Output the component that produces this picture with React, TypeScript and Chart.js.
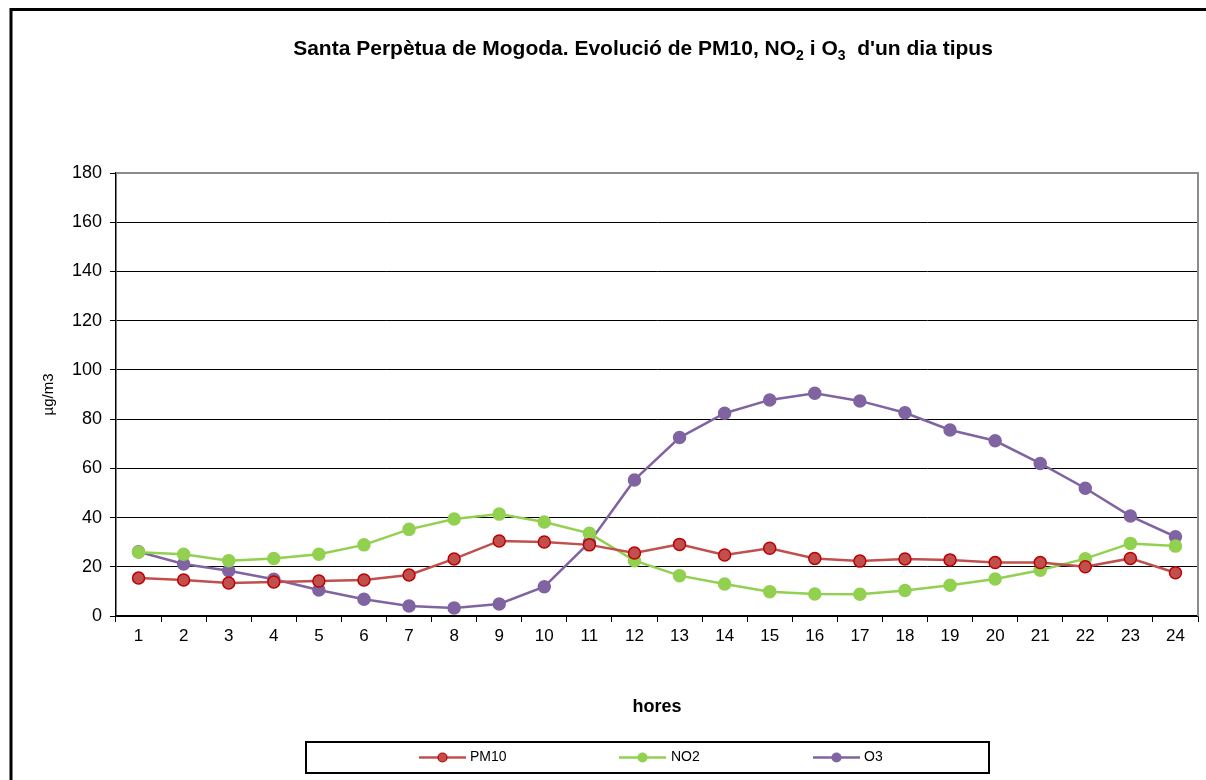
import React, { useEffect, useRef } from "react";
import { Chart, registerables } from "chart.js";

Chart.register(...registerables);

const hours = ["1","2","3","4","5","6","7","8","9","10","11","12","13","14","15","16","17","18","19","20","21","22","23","24"];
const pm10 = [15.4,14.6,13.4,13.8,14.2,14.6,16.7,23.2,30.5,30.1,28.9,25.6,29.1,24.8,27.5,23.4,22.3,23.2,22.8,21.7,21.7,20.0,23.4,17.6];
const no2 = [25.9,25.1,22.5,23.4,25.1,28.9,35.2,39.4,41.4,38.2,33.6,22.5,16.4,13.0,9.9,8.9,8.8,10.4,12.5,15.0,18.6,23.3,29.5,28.4];
const o3 = [26.1,21.1,18.4,14.9,10.6,6.8,4.1,3.3,4.9,11.9,29.9,55.3,72.5,82.4,87.8,90.5,87.4,82.6,75.6,71.2,62.0,51.9,40.6,32.2];
const yTicks = [0,20,40,60,80,100,120,140,160,180];

const FONT = "'Liberation Sans', Arial, sans-serif";

const seriesDefs = [
  { label: "PM10", data: pm10, line: "#c0504d", fill: "#c0504d", border: "#c00000" },
  { label: "NO2", data: no2, line: "#92d050", fill: "#92d050", border: "#92d050" },
  { label: "O3", data: o3, line: "#8064a2", fill: "#8064a2", border: "#8064a2" },
];

const decorPlugin = {
  id: "decor",
  afterDraw(chart: any) {
    const ctx = chart.ctx;
    const ca = chart.chartArea;
    ctx.save();
    // outer frame
    ctx.strokeStyle = "#000";
    ctx.lineWidth = 3;
    ctx.strokeRect(11, 9.5, 1400, 1000);
    // plot area border (top/right)
    ctx.strokeStyle = "#8c8c8c";
    ctx.lineWidth = 2;
    ctx.beginPath();
    ctx.moveTo(ca.left, ca.top);
    ctx.lineTo(ca.right, ca.top);
    ctx.lineTo(ca.right, ca.bottom);
    ctx.stroke();

    // title with subscripts
    const segs: [string, boolean][] = [
      ["Santa Perpètua de Mogoda. Evolució de PM10, NO", false],
      ["2", true],
      [" i O", false],
      ["3", true],
      ["  d'un dia tipus", false],
    ];
    const mainFont = "bold 21px " + FONT;
    const subFont = "bold 14px " + FONT;
    let total = 0;
    for (const [t, s] of segs) {
      ctx.font = s ? subFont : mainFont;
      total += ctx.measureText(t).width;
    }
    let x = 643 - total / 2;
    const baseY = 55;
    ctx.fillStyle = "#000";
    ctx.textBaseline = "alphabetic";
    ctx.textAlign = "left";
    for (const [t, s] of segs) {
      ctx.font = s ? subFont : mainFont;
      ctx.fillText(t, x, s ? baseY + 5 : baseY);
      x += ctx.measureText(t).width;
    }

    // legend
    ctx.strokeStyle = "#000";
    ctx.lineWidth = 2;
    ctx.strokeRect(306, 742, 683, 31);
    const items = [
      { x0: 419, tx: 470 },
      { x0: 619, tx: 671 },
      { x0: 813, tx: 864 },
    ];
    const ly = 757.5;
    ctx.font = "14px " + FONT;
    ctx.textBaseline = "middle";
    seriesDefs.forEach((d, i) => {
      const it = items[i];
      ctx.strokeStyle = d.line;
      ctx.lineWidth = 2.5;
      ctx.beginPath();
      ctx.moveTo(it.x0, ly);
      ctx.lineTo(it.x0 + 47, ly);
      ctx.stroke();
      ctx.beginPath();
      ctx.arc(it.x0 + 23.5, ly, 4.5, 0, Math.PI * 2);
      ctx.fillStyle = d.fill;
      ctx.fill();
      ctx.strokeStyle = d.border;
      ctx.lineWidth = 1.2;
      ctx.stroke();
      ctx.fillStyle = "#000";
      ctx.fillText(d.label, it.tx, ly);
    });
    ctx.restore();
  },
};

export default function App() {
  const ref = useRef<HTMLCanvasElement>(null);
  useEffect(() => {
    if (!ref.current) return;
    const chart = new Chart(ref.current, {
      type: "line",
      data: {
        labels: hours,
        datasets: seriesDefs.map((d) => ({
          label: d.label,
          data: d.data,
          borderColor: d.line,
          backgroundColor: d.fill,
          pointBackgroundColor: d.fill,
          pointBorderColor: d.border,
          pointBorderWidth: 1.5,
          pointRadius: 6,
          borderWidth: 2.5,
          tension: 0,
          fill: false,
        })),
      },
      options: {
        animation: false,
        responsive: true,
        maintainAspectRatio: false,
        layout: { padding: { left: 0, top: 173, right: 8, bottom: 0 } },
        plugins: {
          legend: { display: false },
          title: { display: false },
          tooltip: { enabled: false },
        },
        scales: {
          x: {
            type: "category",
            offset: true,
            afterFit: (s: any) => { s.height = 164; },
            grid: { display: true, offset: true, drawOnChartArea: false, drawTicks: true, tickLength: 6, color: "#000" },
            border: { display: true, color: "#000", width: 1.5 },
            ticks: { color: "#000", font: { family: FONT, size: 17 }, padding: 4, maxRotation: 0, autoSkip: false },
            title: { display: true, text: "hores", color: "#000", font: { family: FONT, size: 18, weight: "bold" }, padding: { top: 0, bottom: 62 } },
          },
          y: {
            min: 0,
            max: 180,
            afterFit: (s: any) => { s.width = 116; },
            afterBuildTicks: (s: any) => { s.ticks = yTicks.map((v) => ({ value: v })); },
            grid: { color: "#000", lineWidth: 1, tickLength: 6, drawTicks: true },
            border: { display: true, color: "#000", width: 1.5 },
            ticks: { color: "#000", font: { family: FONT, size: 18 }, padding: 8 },
            title: { display: true, text: "µg/m3", color: "#000", font: { family: FONT, size: 15 }, padding: { top: 40, bottom: 0 } },
          },
        },
      },
      plugins: [decorPlugin],
    });
    return () => chart.destroy();
  }, []);
  return (
    <div style={{ position: "fixed", left: 0, top: 0, width: 1206, height: 780, background: "#fff" }}>
      <canvas ref={ref} />
    </div>
  );
}
